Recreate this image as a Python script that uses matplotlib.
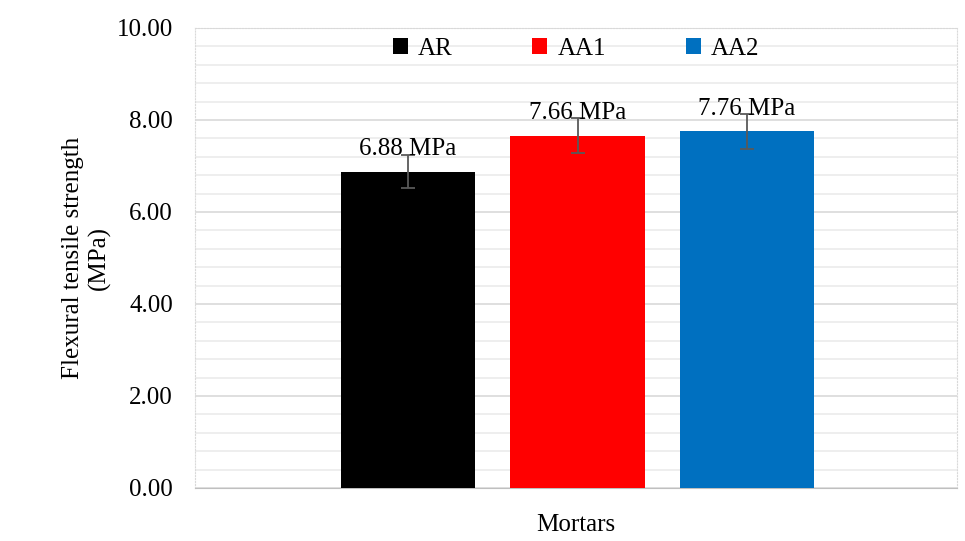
import matplotlib.pyplot as plt
import numpy as np

plt.rcParams['font.family'] = ['Liberation Serif', 'DejaVu Serif']

series = ["AR", "AA1", "AA2"]
values = [6.88, 7.66, 7.76]
errors = [0.35, 0.38, 0.38]
labels = ["6.88 MPa", "7.66 MPa", "7.76 MPa"]
colors = ["#000000", "#ff0000", "#0070c0"]

fs = 18
fig = plt.figure(figsize=(9.65, 5.41), dpi=100)
ax = fig.add_axes([195 / 965, 1 - 488 / 541, (957 - 195) / 965, (488 - 28) / 541])

width = 0.176
step = 0.2224
pos = np.array([-1, 0, 1]) * step + 0.002
for i in range(3):
    ax.bar(pos[i], values[i], width=width, color=colors[i], label=series[i], zorder=3)
    ax.errorbar(pos[i], values[i], yerr=errors[i], color="#595959", capsize=5,
                elinewidth=1.3, capthick=1.3, zorder=4)
    ax.annotate(labels[i], (pos[i], values[i]), xytext=(0, 16), textcoords='offset points',
                ha='center', va='center', fontsize=fs, zorder=5)

ax.set_xlim(-0.5, 0.5)
ax.set_ylim(0, 10)
ax.set_yticks(np.arange(0, 10.01, 2))
ax.set_yticklabels(["%.2f" % v for v in np.arange(0, 10.01, 2)], fontsize=fs)
ax.set_yticks(np.arange(0, 10.01, 0.4), minor=True)
ax.tick_params(axis='y', which='both', length=0, pad=16)
ax.set_xticks([])
ax.grid(axis='y', which='major', color='#d9d9d9', lw=1.2, zorder=0)
ax.grid(axis='y', which='minor', color='#ebebeb', lw=1.2, zorder=0)
for s in ['top', 'right', 'left']:
    ax.spines[s].set_color('#d9d9d9')
    ax.spines[s].set_linestyle(':')
ax.spines['bottom'].set_color('#bfbfbf')

ax.set_xlabel("Mortars", fontsize=fs, labelpad=19)
ax.set_ylabel("Flexural tensile strength\n(MPa)", fontsize=fs, labelpad=4)

ax.legend(loc='upper center', bbox_to_anchor=(0.5, 1.028), ncol=3, frameon=False,
          fontsize=fs, handlelength=0.6, handleheight=0.6, handletextpad=0.4,
          columnspacing=3.2)

fig.savefig("out.png", dpi=100)
